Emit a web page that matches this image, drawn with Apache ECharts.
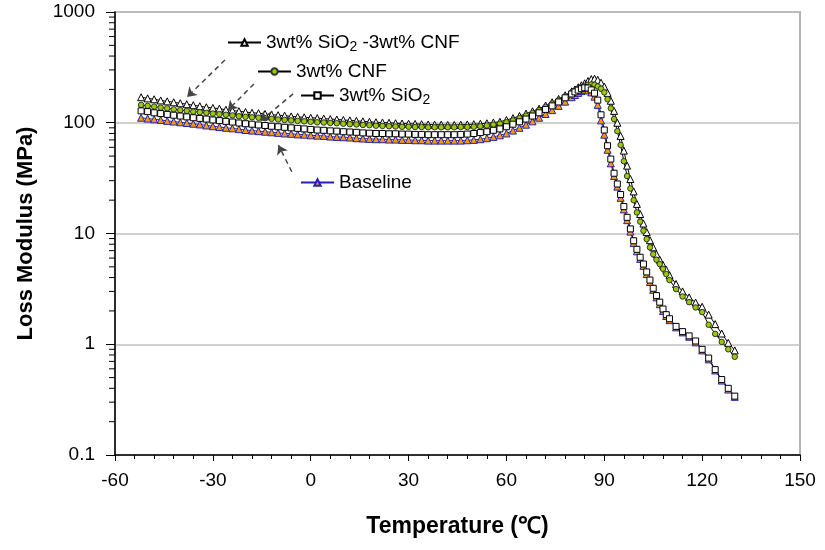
<!DOCTYPE html>
<html><head><meta charset="utf-8">
<script src="https://cdn.jsdelivr.net/npm/echarts@6/dist/echarts.min.js"></script>
<style>html,body{margin:0;padding:0;background:#fff}#c{width:825px;height:550px}</style>
</head><body><div id="c"></div>
<script>
// Temperatures (°C)
const temps = [-52,-50,-48,-46,-44,-42,-40,-38,-36,-34,-32,-30,-28,-26,-24,-22,-20,-18,-16,-14,-12,-10,-8,-6,-4,-2,0,2,4,6,8,10,12,14,16,18,20,22,24,26,28,30,32,34,36,38,40,42,44,46,48,50,52,54,56,58,
  60,62,64,66,68,70,72,74,76,78,80,
  81,82,83,84,85,86,87,88,89,90,91,92,93,94,95,96,97,98,99,100,101,102,103,104,105,106,107,108,109,110,
  112,114,116,118,120,122,124,126,128,130];

// Loss modulus (MPa)
const sio2cnf = [170,166,163,159,156,153,150,147,144,141,138,136,134,131,129,127,125,123,122,120,118,117,116,114,113,112,111,110,109,108,107,106,105,104,103,102,101,100.5,100,99,98.5,98,97.5,97,96.5,96,96,95.5,95.5,96,96.5,97,98,99,100.5,102,
  106,110,115,121,127,134,143,153,164,177,192,
  200,209,218,227,238,248,250,244,230,212,186,158,128,100,76,56,41,31,24,18.5,15,12.3,10.3,8.7,7.5,6.5,5.8,5.2,4.7,4.2,
  3.5,3.0,2.65,2.38,2.18,1.85,1.52,1.25,1.03,0.88];
const cnf = [145,142,140,137,135,132,130,128,126,124.5,123,121,119.5,118,116.5,114.5,113,112,111,110,108.5,107,106,105,104,103,102,101,100.5,99.5,99,98,97,96.5,95.5,95,94,93.5,93,92.5,92,92,91.5,91.5,91,91,91,91,91,91.5,91.5,92,93,94.5,96,98,
  101,105,110,116,122,130,139,149,160,173,187,
  195,203,210,216,220,222,220,213,203,188,163,135,108,84,63,45,33,25.5,20,15.5,12.8,10.6,8.9,7.5,6.5,5.8,5.3,4.8,4.3,3.8,
  3.15,2.7,2.4,2.15,1.95,1.5,1.24,1.05,0.9,0.77];
const sio2 = [128,126,123,121,119,117,115,113,111,109.5,108,106,104.5,103,101.5,99.5,98,97,95.5,94.5,93,92,91,90,89,88,87,86,85.5,84.5,84,83,82.5,82,81,80.5,80,80,79.5,79.5,79,79,78.5,78.5,78,78,78,78,78,78.5,79,80,81.5,83,85.5,88,
  92,97,102,108,115,123,132,142,154,168,182,
  190,197,203,207,206,198,185,160,118,86,62,47,35,28,22.5,17.5,14,11,8.6,7.2,6.1,5.3,4.5,3.8,3.2,2.75,2.4,2.08,1.85,1.7,
  1.45,1.3,1.19,1.07,0.9,0.75,0.59,0.48,0.4,0.34];
const baseline = [111,109,107.5,106,104,102.5,101,99.5,98,96.5,94.5,93,91.5,90,89,87.5,86,85,84,83,82,81,80,79.5,78.5,78,77,76.5,76,75,74.5,74,73.5,72.5,72,71.5,71,71,70.5,70.5,70,70,69.5,69.5,69,69,69,69,69,69,69.5,70,71,72.5,74.5,77,
  80,85,90,96,103,111,120,130,142,155,170,
  178,186,193,197,196,188,172,145,105,78,57,43,33,26.5,21,16.5,13.2,10.4,8.2,6.9,5.9,5.1,4.3,3.65,3.1,2.65,2.3,2.0,1.8,1.65,
  1.42,1.28,1.17,1.04,0.88,0.73,0.58,0.47,0.39,0.335];

const seriesNames = ['3wt% SiO2 -3wt% CNF', '3wt% CNF', '3wt% SiO2', 'Baseline'];
const legendLabels = ['3wt% SiO{sub|2} -3wt% CNF', '3wt% CNF', '3wt% SiO{sub|2}', 'Baseline'];
const yTickLabels = ['0.1', '1', '10', '100', '1000'];
const xTickLabels = ['-60', '-30', '0', '30', '60', '90', '120', '150'];
const yMinorTicks = [0.2,0.3,0.4,0.5,0.6,0.7,0.8,0.9,2,3,4,5,6,7,8,9,20,30,40,50,60,70,80,90,200,300,400,500,600,700,800,900];

// annotation arrows [from, to] in data units
const arrowA = [[-26.3, 368], [-37.9, 171]];
const arrowB = [[-17.4, 224], [-25.4, 130]];
const arrowC = [[-5.4, 182], [-15.5, 103.5]];
const arrowD = [[-5.8, 36.1], [-9.9, 62.8]];

const FONT = 'Liberation Sans, Arial, sans-serif';
const pair = v => temps.map((t, i) => [t, v[i]]);
const arrowML = a => ({
  silent: true, symbol: ['none', 'arrow'], symbolSize: 9, animation: false,
  label: { show: false },
  lineStyle: { type: [5, 4], color: '#444', width: 1.5 },
  emphasis: { disabled: true },
  data: [[{ coord: a[0] }, { coord: a[1] }]]
});

const chart = echarts.init(document.getElementById('c'), null, { renderer: 'canvas' });

function legendAt(i, left, top) {
  return {
    data: [seriesNames[i]], left: left, top: top, orient: 'horizontal',
    itemWidth: 33, itemHeight: 8, itemGap: 5, selectedMode: false,
    formatter: () => legendLabels[i],
    textStyle: {
      fontSize: 19, color: '#000', fontFamily: FONT,
      rich: { sub: { fontSize: 14, fontFamily: FONT, color: '#000', padding: [10, 0, 0, 0] } }
    }
  };
}

const lineSeries = (name, data, symbol, size, lineColor, fill, border, arrow) => ({
  name, type: 'line', data: pair(data), symbol, symbolSize: size,
  showAllSymbol: true, showSymbol: true,
  lineStyle: { color: lineColor, width: 1 },
  itemStyle: { color: fill, borderColor: border, borderWidth: 1 },
  emphasis: { disabled: true },
  markLine: arrowML(arrow)
});

chart.setOption({
  animation: false,
  backgroundColor: '#fff',
  grid: { left: 115, right: 25, top: 12, bottom: 95, show: true, borderColor: '#b4b4b4', borderWidth: 2, backgroundColor: 'transparent' },
  legend: [legendAt(0, 222, 28), legendAt(1, 252, 57), legendAt(2, 295, 81), legendAt(3, 295, 168)],
  xAxis: {
    type: 'value', min: -60, max: 150, interval: 30,
    name: 'Temperature (\u2103)', nameLocation: 'middle', nameGap: 60,
    nameTextStyle: { fontSize: 23, fontWeight: 'bold', color: '#000', fontFamily: FONT },
    axisLine: { onZero: false, lineStyle: { color: '#000', width: 1.5 } },
    axisTick: { show: true, inside: false, length: 6, lineStyle: { color: '#000' } },
    minorTick: { show: true, splitNumber: 5, length: 4, lineStyle: { color: '#000' } },
    axisLabel: { fontSize: 19, color: '#000', fontFamily: FONT, margin: 16, formatter: v => xTickLabels[Math.round((v + 60) / 30)] },
    splitLine: { show: false }
  },
  yAxis: {
    type: 'log', logBase: 10, min: 0.1, max: 1000,
    name: 'Loss Modulus (MPa)', nameLocation: 'middle', nameGap: 78, nameRotate: 90,
    nameTextStyle: { fontSize: 22, fontWeight: 'bold', color: '#000', fontFamily: FONT },
    axisLine: { onZero: false, lineStyle: { color: '#000', width: 1.5 } },
    axisTick: { show: true, inside: false, length: 9, lineStyle: { color: '#000' } },
    minorTick: { show: false },
    axisLabel: { fontSize: 19, color: '#000', fontFamily: FONT, margin: 20,
      formatter: v => yTickLabels[Math.round(Math.log10(v)) + 1] },
    splitLine: { show: true, lineStyle: { color: '#c0c0c0', width: 1.5 } }
  },
  series: [
    {
      name: 'minorY', type: 'custom', silent: true, clip: false, z: 5,
      data: yMinorTicks.map(v => [-60, v]),
      renderItem: (params, api) => {
        const p = api.coord([api.value(0), api.value(1)]);
        return { type: 'line', shape: { x1: p[0] - 6, y1: p[1], x2: p[0], y2: p[1] }, style: { stroke: '#000', lineWidth: 1 } };
      }
    },
    lineSeries(seriesNames[3], baseline, 'triangle', 7, '#2323b4', '#ff9900', '#2323b4', arrowD),
    lineSeries(seriesNames[0], sio2cnf, 'triangle', 7, '#000', '#fff', '#000', arrowA),
    lineSeries(seriesNames[1], cnf, 'circle', 5.5, '#000', '#99cc00', '#333', arrowB),
    lineSeries(seriesNames[2], sio2, 'rect', 6, '#000', '#fff', '#000', arrowC)
  ]
});
</script></body></html>
